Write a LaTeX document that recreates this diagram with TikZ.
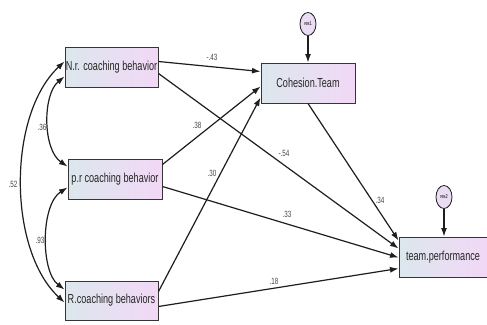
\documentclass[tikz,border=0pt]{standalone}
\usepackage{fontspec}
\setmainfont{Liberation Sans}
\newfontfamily\narrowfont[FakeStretch=0.7]{Liberation Sans}
\usetikzlibrary{arrows.meta,calc,shapes.geometric}
\definecolor{boxL}{RGB}{220,231,237}
\definecolor{boxR}{RGB}{242,216,246}
\definecolor{resfill}{RGB}{234,220,242}
\definecolor{linec}{RGB}{30,30,30}
\definecolor{labc}{RGB}{70,70,70}
\begin{document}
\begin{tikzpicture}[x=1pt,y=-1pt,
  varbox/.style={draw=linec!90,line width=1pt,shading=axis,left color=boxL,right color=boxR,
    minimum width=93pt,minimum height=40pt,inner sep=0pt,font=\narrowfont\fontsize{13}{13}\selectfont,text=black!85},
  resnode/.style={ellipse,draw=linec,line width=0.8pt,fill=resfill,minimum width=16pt,minimum height=23pt,inner sep=0pt,
    font=\narrowfont\fontsize{5.5}{5.5}\selectfont},
  arr/.style={-{Latex[length=8.5pt,width=6pt]},line width=1.2pt,draw=linec},
  darr/.style={{Latex[length=8.5pt,width=6pt]}-{Latex[length=8.5pt,width=6pt]},line width=1.2pt,draw=linec},
  lab/.style={font=\narrowfont\fontsize{9}{9}\selectfont,text=labc,inner sep=0pt}]
\useasboundingbox[fill=white] (0,0) rectangle (487,324);
% nodes
\node[varbox] (nr) at (111.5,67) {N.r. coaching behavior};
\node[varbox,minimum width=94pt] (pr) at (115,179) {p.r coaching behavior};
\node[varbox,minimum height=39pt] (rc) at (111.5,300.5) {R.coaching behaviors};
\node[varbox,minimum width=94pt] (coh) at (308,83) {Cohesion.Team};
\node[varbox,minimum width=88pt] (tp) at (443,257) {team.performance};
\node[resnode] (res1) at (308,24) {res1};
\node[resnode] (res2) at (444,197) {res2};
% residual arrows
\draw[arr] (res1.south) -- (coh.north);
\draw[arr] (res2.south) -- (res2.south |- tp.north);
% paths
\draw[arr] ($(nr.north east)+(0,15)$) -- ($(coh.north west)+(0,9)$);
\draw[arr] ($(nr.north east)+(0,27)$) -- ($(tp.north west)+(0,12)$);
\draw[arr] ($(pr.north east)+(0,6)$) -- ($(coh.north west)+(0,24)$);
\draw[arr] ($(pr.north east)+(0,28)$) -- ($(tp.north west)+(0,21)$);
\draw[arr] ($(rc.north east)+(0,11)$) -- ($(coh.south west)+(0,-6)$);
\draw[arr] ($(rc.north east)+(0,26)$) -- ($(tp.north west)+(0,32)$);
\draw[arr] (coh.south) -- ($(tp.north west)+(0,4)$);
% covariances
\draw[darr] ($(nr.north west)+(0,15)$) .. controls +(-57,53) and +(-57,-53) .. ($(rc.north west)+(0,22)$);
\draw[darr] ($(nr.north west)+(0,30)$) .. controls +(-22,18) and +(-25,-17) .. ($(pr.north west)+(0,8)$);
\draw[darr] ($(pr.north west)+(0,29)$) .. controls +(-27,17) and +(-24,-18) .. ($(rc.north west)+(0,9)$);
% labels
\node[lab] (l1) at (212,57) {-.43};
\node[lab] (l2) at (42,127) {.36};
\node[lab] (l3) at (13,184) {.52};
\node[lab] (l4) at (40,240) {.93};
\node[lab] (l5) at (197,125) {.38};
\node[lab] (l6) at (212,173) {.30};
\node[lab] (l7) at (284,153) {-.54};
\node[lab] (l8) at (380,200) {.34};
\node[lab] (l9) at (287,214) {.33};
\node[lab] (l10) at (274,281) {.18};
\end{tikzpicture}
\end{document}
